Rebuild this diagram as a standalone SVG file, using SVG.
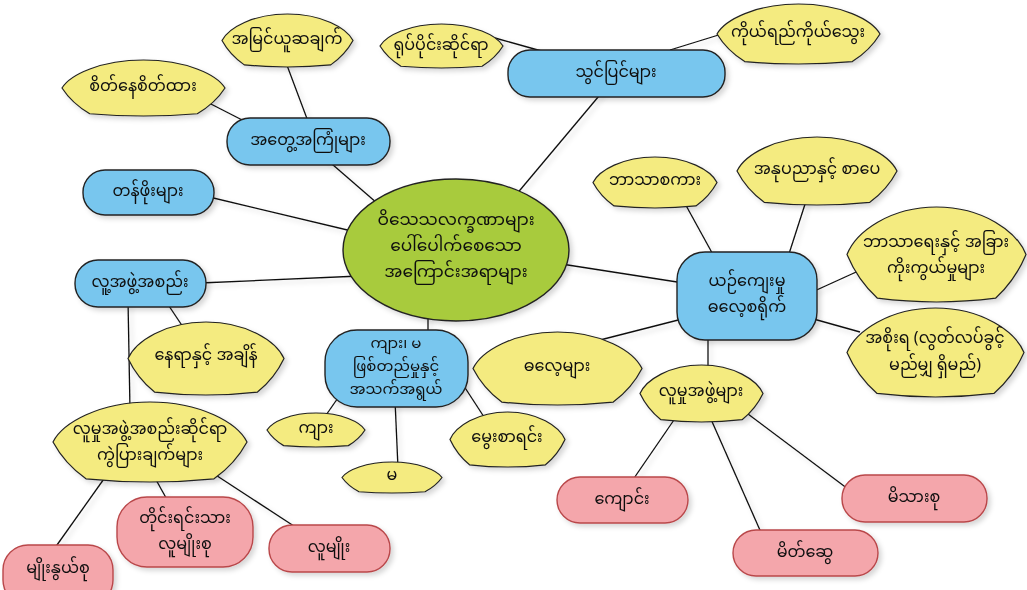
<svg xmlns="http://www.w3.org/2000/svg" xmlns:xlink="http://www.w3.org/1999/xlink" width="1027" height="590" viewBox="0 0 1027 590">
<defs>
<style>
.y{fill:#F4EB80;stroke:#222;stroke-width:1.2}
.b{fill:#78C6EE;stroke:#222;stroke-width:1.4}
.p{fill:#F4A6AB;stroke:#B9474A;stroke-width:1.4}
.c{fill:#A8CB3C;stroke:#222;stroke-width:1.4}
.ln{stroke:#111;stroke-width:1.3;fill:none}
text{font-family:"Noto Sans Myanmar","Padauk","Myanmar Text","Myanmar3","Noto Sans",sans-serif;font-size:16px;fill:#111;text-anchor:middle;dominant-baseline:central}
.big{font-size:17px}
.sm{font-size:15px}
</style>
<filter id="sh" x="-20%" y="-20%" width="140%" height="140%">
<feDropShadow dx="3" dy="3" stdDeviation="2.5" flood-color="#000" flood-opacity="0.16"/>
</filter>
<path id="lemon" vector-effect="non-scaling-stroke" d="M0,50 C5,26 24,0 50,0 C76,0 95,26 100,50 C96,68 90,84 83,96 Q50,104 17,96 C10,84 4,68 0,50 Z"/>
</defs>
<rect width="1027" height="590" fill="#fff"/>
<g id="connectors" class="ln" filter="url(#sh)">
<line x1="285" y1="60" x2="309" y2="124"/>
<line x1="205" y1="101" x2="250" y2="124"/>
<line x1="325" y1="158" x2="385" y2="210"/>
<line x1="205" y1="196" x2="360" y2="233"/>
<line x1="200" y1="283" x2="360" y2="276"/>
<line x1="128" y1="300" x2="130" y2="410"/>
<line x1="165" y1="300" x2="185" y2="330"/>
<line x1="106" y1="476" x2="52" y2="552"/>
<line x1="155" y1="478" x2="170" y2="505"/>
<line x1="205" y1="468" x2="300" y2="530"/>
<line x1="428" y1="305" x2="428" y2="335"/>
<line x1="324" y1="418" x2="340" y2="395"/>
<line x1="395" y1="400" x2="398" y2="468"/>
<line x1="460" y1="380" x2="486" y2="420"/>
<line x1="510" y1="202" x2="604" y2="90"/>
<line x1="495" y1="38" x2="545" y2="52"/>
<line x1="725" y1="33" x2="670" y2="50"/>
<line x1="555" y1="263" x2="690" y2="284"/>
<line x1="600" y1="340" x2="690" y2="317"/>
<line x1="683" y1="200" x2="716" y2="260"/>
<line x1="807" y1="198" x2="787" y2="260"/>
<line x1="810" y1="293" x2="865" y2="268"/>
<line x1="810" y1="318" x2="860" y2="332"/>
<line x1="708" y1="335" x2="708" y2="370"/>
<line x1="676" y1="417" x2="630" y2="484"/>
<line x1="710" y1="417" x2="763" y2="537"/>
<line x1="740" y1="408" x2="852" y2="492"/>
</g>
<g id="center" filter="url(#sh)">
<ellipse class="c" cx="456" cy="250" rx="113" ry="71"/>
<text class="big"><tspan x="456" y="221">ဝိသေသလက္ခဏာများ</tspan><tspan x="456" y="247">ပေါ်ပေါက်စေသော</tspan><tspan x="456" y="273">အကြောင်းအရာများ</tspan></text>
</g>
<g id="n-amyin" filter="url(#sh)"><use class="y" href="#lemon" transform="translate(222 14) scale(1.31 0.53)"/><text x="287" y="40">အမြင်ယူဆချက်</text></g>
<g id="n-seitne" filter="url(#sh)"><use class="y" href="#lemon" transform="translate(62 60) scale(1.63 0.56)"/><text x="143" y="87">စိတ်နေစိတ်ထား</text></g>
<g id="n-yoke" filter="url(#sh)"><use class="y" href="#lemon" transform="translate(380 24) scale(1.23 0.44)"/><text x="441" y="46">ရုပ်ပိုင်းဆိုင်ရာ</text></g>
<g id="n-koeye" filter="url(#sh)"><use class="y" href="#lemon" transform="translate(717 4) scale(1.63 0.6)"/><text x="798" y="33">ကိုယ်ရည်ကိုယ်သွေး</text></g>
<g id="n-bhasa" filter="url(#sh)"><use class="y" href="#lemon" transform="translate(593 157) scale(1.24 0.51)"/><text x="655" y="181">ဘာသာစကား</text></g>
<g id="n-anu" filter="url(#sh)"><use class="y" href="#lemon" transform="translate(737 137) scale(1.6 0.68)"/><text x="817" y="170">အနုပညာနှင့် စာပေ</text></g>
<g id="n-religion" filter="url(#sh)"><use class="y" href="#lemon" transform="translate(847 207) scale(1.79 0.95)"/><text><tspan x="936" y="243">ဘာသာရေးနှင့် အခြား</tspan><tspan x="936" y="269">ကိုးကွယ်မှုများ</tspan></text></g>
<g id="n-gov" filter="url(#sh)"><use class="y" href="#lemon" transform="translate(847 308) scale(1.77 0.89)"/><text><tspan x="935" y="339">အစိုးရ (လွတ်လပ်ခွင့်</tspan><tspan x="935" y="366">မည်မျှ ရှိမည်)</tspan></text></g>
<g id="n-dale" filter="url(#sh)"><use class="y" href="#lemon" transform="translate(473 332) scale(1.69 0.73)"/><text x="557" y="367">ဓလေ့များ</text></g>
<g id="n-lumhu" filter="url(#sh)"><use class="y" href="#lemon" transform="translate(640 365) scale(1.23 0.57)"/><text x="701" y="392">လူမှုအဖွဲ့များ</text></g>
<g id="n-neya" filter="url(#sh)"><use class="y" href="#lemon" transform="translate(128 322) scale(1.56 0.73)"/><text x="206" y="356">နေရာနှင့် အချိန်</text></g>
<g id="n-social" filter="url(#sh)"><use class="y" href="#lemon" transform="translate(53 402) scale(1.94 0.8)"/><text><tspan x="150" y="430">လူမှုအဖွဲ့အစည်းဆိုင်ရာ</tspan><tspan x="150" y="456">ကွဲပြားချက်များ</tspan></text></g>
<g id="n-kya" filter="url(#sh)"><use class="y" href="#lemon" transform="translate(267 413) scale(0.98 0.34)"/><text x="316" y="429">ကျား</text></g>
<g id="n-ma" filter="url(#sh)"><use class="y" href="#lemon" transform="translate(342 462) scale(1.0 0.31)"/><text x="392" y="476">မ</text></g>
<g id="n-mwe" filter="url(#sh)"><use class="y" href="#lemon" transform="translate(450 412) scale(1.15 0.55)"/><text x="507" y="438">မွေးစာရင်း</text></g>
<g id="n-atwe" filter="url(#sh)"><rect class="b" x="227" y="118" width="163" height="47" rx="23"/><text x="308" y="141">အတွေ့အကြုံများ</text></g>
<g id="n-tanpho" filter="url(#sh)"><rect class="b" x="83" y="170" width="131" height="45" rx="22"/><text x="148" y="192">တန်ဖိုးများ</text></g>
<g id="n-society" filter="url(#sh)"><rect class="b" x="75" y="260" width="131" height="47" rx="23"/><text x="140" y="283">လူ့အဖွဲ့အစည်း</text></g>
<g id="n-thwin" filter="url(#sh)"><rect class="b" x="508" y="50" width="217" height="47" rx="22"/><text x="616" y="73">သွင်ပြင်များ</text></g>
<g id="n-culture" filter="url(#sh)"><rect class="b" x="677" y="252" width="140" height="88" rx="28"/><text><tspan x="747" y="282">ယဉ်ကျေးမှု</tspan><tspan x="747" y="308">ဓလေ့စရိုက်</tspan></text></g>
<g id="n-gender" filter="url(#sh)"><rect class="b" x="325" y="330" width="143" height="77" rx="32"/><text class="sm"><tspan x="396" y="344">ကျား၊ မ</tspan><tspan x="396" y="367">ဖြစ်တည်မှုနှင့်</tspan><tspan x="396" y="390">အသက်အရွယ်</tspan></text></g>
<g id="n-myo" filter="url(#sh)"><rect class="p" x="3" y="545" width="110" height="60" rx="25"/><text x="58" y="569">မျိုးနွယ်စု</text></g>
<g id="n-taing" filter="url(#sh)"><rect class="p" x="117" y="497" width="136" height="70" rx="30"/><text><tspan x="185" y="519">တိုင်းရင်းသား</tspan><tspan x="185" y="545">လူမျိုးစု</tspan></text></g>
<g id="n-lumyo" filter="url(#sh)"><rect class="p" x="269" y="525" width="121" height="47" rx="23"/><text x="329" y="548">လူမျိုး</text></g>
<g id="n-kyaung" filter="url(#sh)"><rect class="p" x="557" y="477" width="131" height="46" rx="23"/><text x="622" y="500">ကျောင်း</text></g>
<g id="n-meik" filter="url(#sh)"><rect class="p" x="733" y="530" width="145" height="46" rx="23"/><text x="805" y="553">မိတ်ဆွေ</text></g>
<g id="n-family" filter="url(#sh)"><rect class="p" x="842" y="475" width="145" height="47" rx="23"/><text x="914" y="498">မိသားစု</text></g>
</svg>
